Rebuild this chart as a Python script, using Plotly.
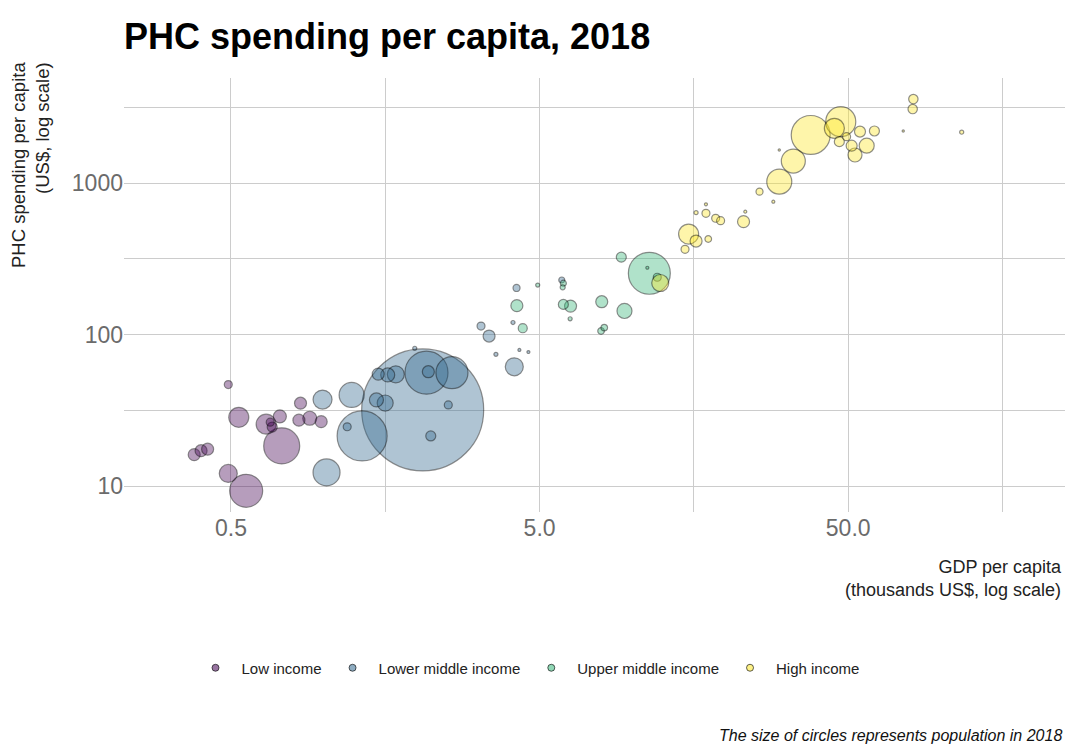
import plotly.graph_objects as go

# GDP per capita (thousands US$), PHC spending per capita (US$), population (millions), income group
gdp = [
    # Low income
    0.49, 0.53, 0.38, 0.40, 0.42, 0.49, 0.56, 0.65, 0.72, 0.68, 0.67, 0.73, 0.84, 0.83, 0.90, 0.98,
    # Lower middle income
    0.99, 1.02, 1.23, 1.33, 1.19, 1.48, 1.58, 1.50, 1.61, 1.71, 2.09, 2.15, 2.60, 2.18, 2.53, 2.22,
    1.97, 3.23, 3.43, 4.14, 4.21, 3.61, 4.10, 4.30, 4.60, 5.90,
    # Upper middle income
    4.22, 4.41, 4.93, 5.97, 5.94, 5.97, 6.30, 6.28, 7.95, 9.42, 7.91, 8.10, 11.34, 11.17, 12.03, 9.20,
    # High income
    12.3, 15.2, 16.07, 14.8, 17.6, 16.07, 17.3, 17.3, 18.6, 19.3, 22.9, 23.2, 25.8, 28.6, 29.9, 33.2,
    29.9, 37.8, 47.3, 45.1, 46.8, 49.4, 51.3, 54.6, 57.4, 52.6, 60.8, 81.3, 80.9, 75.4, 116.6,
]
phc = [
    46.7, 28.4, 16.1, 17.1, 17.5, 12.1, 9.3, 25.6, 28.8, 24.5, 26.4, 18.4, 35.2, 27.2, 28.0, 26.6,
    37.2, 12.3, 39.9, 21.4, 24.6, 37.0, 35.3, 54.8, 54.1, 54.6, 31.8, 56.0, 56.0, 56.8, 34.3, 21.4,
    81.1, 113.7, 97.7, 61.2, 202.8, 74.0, 120.0, 79.1, 76.6, 229.0,
    155.0, 110.0, 212.0, 218.0, 205.0, 158.0, 154.0, 127.0, 164.6, 143.0, 105.5, 111.0, 253.6, 276.0, 238.7, 324.0,
    218.8, 460.0, 414.0, 365.0, 427.0, 637.0, 631.0, 723.0, 585.0, 564.0, 556.0, 647.0, 877.0, 753.0, 1021.0, 1396.0,
    1652.0, 2075.0, 2541.0, 2296.0, 1875.0, 2023.0, 1763.0, 2184.0, 1763.0, 1531.0, 2205.0, 3581.0, 3077.0, 2205.0, 2164.0,
]
population = [
    5.8, 36.4, 13.1, 13.1, 13.1, 29.5, 99.0, 36.4, 15.4, 9.1, 5.8, 118.0, 13.1, 13.1, 17.8, 13.1,
    32.8, 66.3, 56.9, 227.0, 5.8, 17.8, 23.3, 13.1, 17.8, 26.3, 1353.0, 168.0, 93.2, 13.1, 5.8, 9.1,
    1.5, 5.8, 13.1, 29.5, 4.5, 1.5, 1.5, 0.8, 0.8, 3.3,
    13.1, 7.4, 1.5, 3.3, 2.3, 9.1, 13.1, 1.5, 13.1, 20.5, 4.0, 4.0, 160.0, 0.8, 5.8, 9.1,
    26.3, 36.4, 13.1, 5.8, 4.0, 1.5, 5.8, 0.8, 5.8, 5.8, 13.1, 0.8, 4.5, 0.8, 56.9, 52.4,
    0.4, 138.0, 81.9, 36.4, 9.1, 5.8, 11.0, 11.0, 20.5, 17.8, 9.1, 8.0, 8.0, 0.4, 1.5,
]
group = (["Low income"] * 16 + ["Lower middle income"] * 26
         + ["Upper middle income"] * 16 + ["High income"] * 31)

groups = ["Low income", "Lower middle income", "Upper middle income", "High income"]
colors = ["68,1,84", "49,104,142", "53,183,121", "253,231,37"]

x_ticks = [0.5, 5, 50]
x_ticktext = ["0.5", "5.0", "50.0"]
y_ticks = [10, 100, 1000]
y_ticktext = ["10", "100", "1000"]

FONT = "Liberation Sans, Arial, sans-serif"
SIZEREF = 0.1818

fig = go.Figure()

for g, c in zip(groups, colors):
    idx = [i for i, v in enumerate(group) if v == g]
    idx.sort(key=lambda i: -population[i])
    fig.add_trace(go.Scatter(
        x=[gdp[i] for i in idx],
        y=[phc[i] for i in idx],
        mode="markers",
        showlegend=False,
        hoverinfo="skip",
        marker=dict(
            size=[population[i] for i in idx],
            sizemode="area",
            sizeref=SIZEREF,
            color=f"rgba({c},0.55)",
            line=dict(color="rgba(0,0,0,0.62)", width=1.2),
        ),
    ))

# legend keys
for g, c in zip(groups, colors):
    fig.add_trace(go.Scatter(
        x=[None], y=[None], mode="markers", name=g,
        marker=dict(size=7, color=f"rgba({c},0.55)",
                    line=dict(color="rgba(0,0,0,0.62)", width=1)),
    ))

grid = "#cccccc"
fig.update_layout(
    width=1067, height=751,
    margin=dict(l=124, r=2, t=78, b=239),
    paper_bgcolor="white", plot_bgcolor="white",
    font=dict(family=FONT, color="#333333"),
    title=dict(
        text="<b>PHC spending per capita, 2018</b>",
        font=dict(family=FONT, size=36, color="#000000"),
        xref="container", yref="container",
        x=124 / 1067, xanchor="left",
        y=1 - 36 / 751, yanchor="middle",
    ),
    xaxis=dict(
        type="log", range=[-0.6477, 2.4015],
        tickvals=x_ticks, ticktext=x_ticktext,
        tickfont=dict(size=23, color="#6b6b6b"),
        showgrid=True, gridcolor=grid, gridwidth=1,
        minor=dict(tickmode="array", tickvals=[0.158, 1.58, 15.8, 158],
                   showgrid=True, gridcolor=grid, gridwidth=1, ticks=""),
        zeroline=False, showline=False, ticks="",
    ),
    yaxis=dict(
        type="log", range=[0.8284, 3.6931],
        tickvals=y_ticks, ticktext=y_ticktext,
        tickfont=dict(size=23, color="#6b6b6b"),
        showgrid=True, gridcolor=grid, gridwidth=1,
        minor=dict(tickmode="array", tickvals=[31.6, 316, 3162],
                   showgrid=True, gridcolor=grid, gridwidth=1, ticks=""),
        zeroline=False, showline=False, ticks="",
    ),
    legend=dict(
        orientation="h",
        xref="container", yref="container",
        x=527 / 1067, xanchor="center",
        y=1 - 668 / 751, yanchor="middle",
        itemwidth=42,
        font=dict(family=FONT, size=15, color="#222222"),
    ),
    annotations=[
        dict(
            text="PHC spending per capita<br>(US$, log scale)",
            textangle=-90, align="right",
            xref="paper", yref="paper",
            x=(30 - 124) / 941, y=(512 - 165) / 434,
            xanchor="center", yanchor="middle",
            showarrow=False,
            font=dict(family=FONT, size=18.5, color="#222222"),
        ),
        dict(
            text="GDP per capita<br>(thousands US$, log scale)",
            align="right",
            xref="paper", yref="paper",
            x=(1064 - 124) / 941, y=(512 - 578.5) / 434,
            xanchor="right", yanchor="middle",
            showarrow=False,
            font=dict(family=FONT, size=18, color="#222222"),
        ),
        dict(
            text="<i>The size of circles represents population in 2018</i>",
            xref="paper", yref="paper",
            x=(1064 - 124) / 941, y=(512 - 735) / 434,
            xanchor="right", yanchor="middle",
            showarrow=False,
            font=dict(family=FONT, size=16, color="#111111"),
        ),
    ],
)

fig.write_html("out.html")
